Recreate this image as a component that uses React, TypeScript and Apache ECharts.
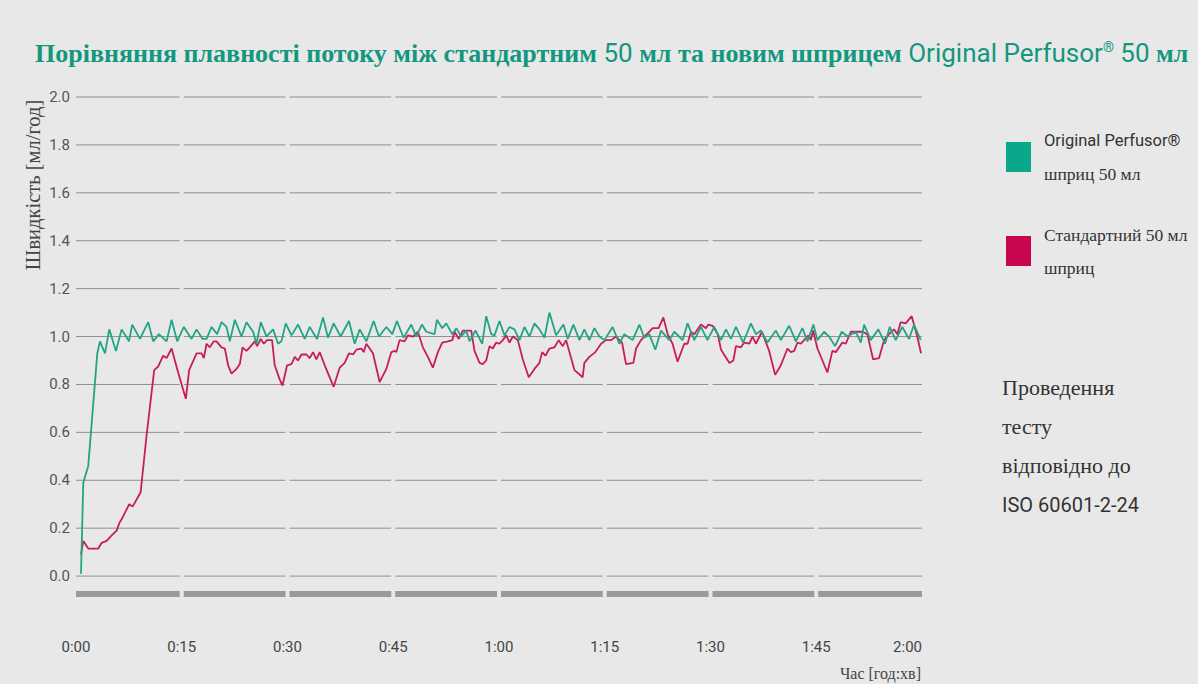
import React, { useEffect, useRef } from "react";
import * as echarts from "echarts";

// ---- data (time in minutes, flow in ml/h) ----
const greenT = [0.71, 1.03, 1.74, 3.02, 3.4, 4.11, 4.72, 5.67, 6.47, 7.51, 7.98, 9.07, 10.24, 10.95, 11.76, 12.85, 13.56, 14.35, 15.3, 16.39, 17.1, 17.95, 18.52, 19.23, 20.02, 20.64, 21.35, 21.82, 22.53, 23.48, 24.18, 25.12, 25.6, 26.21, 27.02, 27.95, 28.66, 29.14, 29.75, 30.56, 31.5, 32.44, 33.15, 34.19, 35.04, 35.74, 36.55, 37.54, 38.72, 39.53, 40.24, 41.19, 42.22, 42.97, 44.02, 44.87, 45.52, 46.47, 47.56, 48.27, 49.06, 49.69, 50.86, 51.19, 51.95, 52.52, 53.37, 53.94, 54.64, 55.35, 55.82, 56.67, 57.62, 58.19, 58.9, 59.36, 60.07, 60.78, 61.49, 62.2, 62.9, 63.61, 64.32, 65.03, 65.74, 66.45, 67.15, 68.1, 69.14, 69.75, 70.56, 71.41, 72.11, 72.82, 73.53, 74.24, 74.95, 76.12, 77.07, 77.78, 78.96, 79.91, 80.61, 81.32, 82.17, 82.98, 84.16, 84.87, 86.04, 86.75, 87.7, 88.65, 89.58, 90.53, 91.48, 92.19, 92.9, 93.61, 94.64, 95.73, 96.44, 97.15, 98.08, 99.27, 99.98, 101.16, 102.11, 103.04, 103.75, 104.6, 105.17, 106.12, 106.82, 107.67, 108.62, 109.42, 110.61, 111.32, 111.79, 112.73, 113.81, 114.76, 115.42, 116.27, 117.21, 118.16, 118.87, 119.81];
const greenV = [0.01, 0.39, 0.46, 0.93, 0.98, 0.93, 1.03, 0.94, 1.03, 0.98, 1.05, 0.99, 1.06, 0.98, 1.01, 0.98, 1.07, 0.98, 1.04, 0.99, 1.03, 0.99, 0.99, 1.04, 1.01, 1.06, 1.04, 0.98, 1.07, 1.0, 1.06, 1.02, 0.97, 1.06, 1.0, 1.03, 0.97, 0.98, 1.055, 1.005, 1.05, 0.99, 1.04, 0.99, 1.08, 0.995, 1.055, 1.0, 1.065, 0.97, 1.03, 0.98, 1.065, 1.0, 1.04, 1.01, 1.065, 0.995, 1.05, 1.0, 1.05, 1.02, 1.01, 1.07, 1.035, 1.055, 1.01, 1.035, 1.0, 1.025, 0.98, 1.025, 0.97, 1.085, 1.01, 1.005, 1.065, 1.005, 1.04, 1.03, 0.985, 1.04, 1.0, 1.055, 1.03, 0.995, 1.1, 1.005, 1.05, 0.99, 1.05, 0.985, 1.03, 0.985, 1.035, 1.0, 0.985, 1.04, 0.97, 1.01, 0.985, 1.05, 0.995, 1.01, 0.945, 1.025, 0.985, 1.02, 0.985, 1.055, 0.985, 1.04, 0.985, 1.04, 0.985, 1.03, 0.99, 1.04, 0.975, 1.055, 1.01, 1.025, 0.975, 1.025, 0.985, 1.045, 0.98, 1.035, 0.98, 1.05, 0.985, 1.02, 1.0, 0.96, 1.02, 1.0, 1.02, 0.975, 1.05, 0.985, 1.03, 0.97, 1.04, 0.985, 1.04, 0.99, 1.05, 0.985];

const redT = [0.71, 1.03, 1.74, 2.45, 3.16, 3.64, 4.35, 5.06, 5.77, 6.13, 6.7, 7.55, 8.03, 8.6, 9.17, 10.02, 11.09, 11.66, 12.37, 12.85, 13.56, 14.49, 15.58, 16.05, 17.1, 17.81, 18.13, 18.52, 18.98, 19.55, 19.93, 20.64, 21.11, 21.58, 22.06, 22.77, 23.24, 23.62, 24.18, 24.65, 25.36, 25.69, 26.21, 26.64, 27.1, 27.81, 28.19, 28.9, 29.28, 29.94, 30.56, 31.03, 31.49, 31.98, 32.68, 33.15, 33.62, 34.1, 34.57, 35.28, 36.55, 37.4, 38.11, 38.72, 39.29, 39.77, 40.48, 40.8, 41.19, 42.12, 43.07, 44.02, 44.73, 45.2, 45.44, 45.9, 46.61, 47.08, 47.79, 48.5, 49.2, 49.91, 50.62, 51.33, 51.95, 52.75, 53.37, 53.7, 54.3, 54.87, 56.06, 56.53, 57.24, 57.7, 58.19, 58.65, 59.12, 59.6, 60.07, 60.54, 61.02, 61.49, 61.96, 62.67, 63.37, 64.22, 65.03, 65.74, 66.12, 66.59, 67.15, 67.86, 68.47, 69.04, 69.52, 69.99, 70.7, 71.87, 72.11, 72.82, 73.67, 74.48, 75.19, 75.9, 76.6, 77.45, 78.02, 79.06, 79.44, 80.14, 80.61, 81.32, 81.79, 82.64, 83.31, 83.92, 84.62, 85.33, 86.28, 86.75, 87.23, 87.7, 88.65, 89.35, 89.7, 90.31, 91.02, 91.5, 92.68, 93.24, 93.61, 94.32, 94.79, 95.5, 95.97, 96.44, 97.29, 98.32, 99.17, 99.98, 100.92, 101.4, 101.87, 102.33, 102.81, 103.28, 103.89, 104.23, 104.55, 105.17, 106.58, 107.29, 107.77, 108.71, 109.19, 109.9, 111.54, 112.25, 113.06, 113.91, 114.62, 115.32, 116.03, 116.5, 116.98, 117.69, 118.54, 119.33, 119.86];
const redV = [0.09, 0.147, 0.115, 0.115, 0.115, 0.139, 0.147, 0.17, 0.19, 0.22, 0.25, 0.3, 0.29, 0.32, 0.35, 0.59, 0.86, 0.875, 0.92, 0.91, 0.95, 0.85, 0.74, 0.86, 0.93, 0.93, 0.91, 0.97, 0.955, 0.98, 0.98, 0.955, 0.95, 0.88, 0.845, 0.865, 0.885, 0.955, 0.94, 0.955, 0.98, 0.96, 0.99, 0.97, 0.985, 0.985, 0.88, 0.82, 0.795, 0.88, 0.885, 0.915, 0.9, 0.925, 0.925, 0.91, 0.935, 0.905, 0.935, 0.88, 0.79, 0.87, 0.89, 0.93, 0.925, 0.945, 0.95, 0.935, 0.97, 0.93, 0.81, 0.865, 0.935, 0.94, 0.935, 0.985, 0.98, 1.005, 1.0, 1.02, 0.955, 0.915, 0.87, 0.935, 0.975, 0.98, 0.985, 1.02, 0.99, 1.025, 1.025, 0.94, 0.89, 0.885, 0.9, 0.96, 0.95, 0.975, 0.97, 0.985, 1.005, 0.975, 1.0, 0.985, 0.905, 0.83, 0.865, 0.89, 0.935, 0.92, 0.95, 0.955, 0.985, 0.96, 0.985, 0.935, 0.86, 0.83, 0.89, 0.915, 0.935, 0.97, 0.985, 0.985, 1.0, 0.975, 0.885, 0.89, 0.95, 0.985, 1.0, 1.02, 1.035, 1.035, 1.08, 1.01, 0.97, 0.895, 0.97, 0.97, 1.02, 1.01, 1.05, 1.035, 1.05, 1.045, 1.01, 0.945, 0.89, 0.9, 0.96, 0.955, 0.975, 0.97, 1.0, 0.97, 1.02, 0.94, 0.84, 0.88, 0.95, 0.935, 0.94, 0.975, 0.97, 0.985, 1.005, 0.985, 1.025, 0.95, 0.85, 0.94, 0.935, 0.975, 0.97, 1.02, 1.02, 1.01, 0.905, 0.91, 0.985, 1.01, 1.03, 1.01, 1.06, 1.055, 1.085, 1.0, 0.93];

const xTicks = [0, 15, 30, 45, 60, 75, 90, 105, 120];
const yTicks = [0, 0.2, 0.4, 0.6, 0.8, 1.0, 1.2, 1.4, 1.6, 1.8, 2.0];
const barLevel = -0.075; // grey time bar under the plot

const seriesNames = ["Original Perfusor® шприц 50 мл", "Стандартний 50 мл шприц"];

const BG = "#e8e8e8";
const GREEN = "#22a486";
const RED = "#c81d5a";
const TEAL = "#13977e";
const SERIF = "'Liberation Serif', 'DejaVu Serif', serif";
const NARROW = "Roboto, 'Noto Sans', sans-serif";

function segments(level: number, gap: number) {
  const out: number[][] = [];
  for (let i = 0; i < xTicks.length - 1; i++) {
    const a = i === 0 ? xTicks[i] : xTicks[i] + gap;
    const b = i === xTicks.length - 2 ? xTicks[i + 1] : xTicks[i + 1] - gap;
    out.push([a, b, level]);
  }
  return out;
}

function fmtTime(v: number) {
  const h = Math.floor(v / 60);
  const m = Math.round(v - h * 60);
  return h + ":" + (m < 10 ? "0" + m : "" + m);
}

export default function App() {
  const ref = useRef<HTMLDivElement>(null);
  useEffect(() => {
    if (!ref.current) return;
    const chart = echarts.init(ref.current, null, { renderer: "svg" });
    const gridData: number[][] = [];
    yTicks.forEach((y) => segments(y, 0.3).forEach((s) => gridData.push(s)));
    const barData = segments(barLevel, 0.28);
    const segRender = (color: string, width: number) => (params: any, api: any) => {
      const p1 = api.coord([api.value(0), api.value(2)]);
      const p2 = api.coord([api.value(1), api.value(2)]);
      return {
        type: "line",
        shape: { x1: p1[0], y1: p1[1], x2: p2[0], y2: p2[1] },
        style: { stroke: color, lineWidth: width },
      };
    };
    chart.setOption({
      animation: false,
      backgroundColor: BG,
      title: {
        left: 30,
        top: 35,
        text:
          "{s|Порівняння плавності потоку між стандартним }{n|50}{s| мл та новим шприцем }{n|Original Perfusor}{r|®}{n| 50}{s| мл}",
        textStyle: {
          rich: {
            s: { fontFamily: SERIF, fontWeight: "bold", fontSize: 26, color: TEAL },
            n: { fontFamily: NARROW, fontWeight: "normal", fontSize: 26, color: TEAL },
            r: { fontFamily: NARROW, fontWeight: "normal", fontSize: 14, color: TEAL, verticalAlign: "top" },
          },
        },
      },
      legend: {
        orient: "vertical",
        left: 1001,
        top: 127,
        itemWidth: 25,
        itemHeight: 30,
        itemGap: 43,
        icon: "rect",
        data: [
          { name: seriesNames[0], itemStyle: { color: "#0aa88a" } },
          { name: seriesNames[1], itemStyle: { color: "#c8054f" } },
        ],
        formatter: (name: string) =>
          name === seriesNames[0]
            ? "{a|Original Perfusor®}\n{b|шприц 50 мл}"
            : "{b|Стандартний 50 мл}\n{b|шприц}",
        textStyle: {
          padding: [0, 0, 0, 8],
          rich: {
            a: { fontFamily: NARROW, fontSize: 16.5, color: "#333", lineHeight: 33 },
            b: { fontFamily: SERIF, fontSize: 17.5, color: "#333", lineHeight: 33 },
          },
        },
      },
      grid: { left: 76, right: 276, top: 97, bottom: 60 },
      xAxis: {
        type: "value",
        min: 0,
        max: 120,
        interval: 15,
        axisLine: { show: false },
        axisTick: { show: false },
        splitLine: { show: false },
        axisLabel: {
          formatter: fmtTime,
          fontFamily: NARROW,
          fontSize: 15,
          color: "#444",
          margin: 15,
          alignMaxLabel: "right",
        },
      },
      yAxis: {
        type: "value",
        min: -0.2,
        max: 2.0,
        interval: 0.2,
        axisLine: { show: false },
        axisTick: { show: false },
        splitLine: { show: false },
        axisLabel: {
          formatter: (v: number) => (v < -0.01 ? "" : v.toFixed(1)),
          fontFamily: NARROW,
          fontSize: 15,
          color: "#555",
          margin: 6,
        },
      },
      graphic: [
        {
          type: "text",
          x: 33,
          y: 185,
          rotation: Math.PI / 2,
          style: {
            text: "Швидкість [мл/год]",
            fontFamily: SERIF,
            fontSize: 20.5,
            fill: "#444",
            align: "center",
            verticalAlign: "middle",
          },
        },
        {
          type: "text",
          x: 921,
          y: 673,
          style: {
            text: "Час [год:хв]",
            fontFamily: SERIF,
            fontSize: 16,
            fill: "#444",
            align: "right",
            verticalAlign: "middle",
          },
        },
        {
          type: "text",
          x: 1002,
          y: 446,
          style: {
            text: "{s|Проведення}\n{s|тесту}\n{s|відповідно до}\n{n|ISO 60601-2-24}",
            verticalAlign: "middle",
            rich: {
              s: { fontFamily: SERIF, fontSize: 22, fill: "#333", lineHeight: 39 },
              n: { fontFamily: NARROW, fontSize: 20, fill: "#333", lineHeight: 39 },
            },
          },
        },
      ],
      series: [
        {
          type: "custom",
          name: "grid",
          silent: true,
          z: 1,
          renderItem: segRender("#8f8f8f", 1),
          data: gridData,
        },
        {
          type: "custom",
          name: "bar",
          silent: true,
          z: 1,
          renderItem: segRender("#9a9a9a", 6),
          data: barData,
        },
        {
          type: "line",
          name: seriesNames[1],
          z: 3,
          symbol: "none",
          lineStyle: { color: RED, width: 1.8 },
          itemStyle: { color: RED },
          data: redT.map((t, i) => [t, redV[i]]),
        },
        {
          type: "line",
          name: seriesNames[0],
          z: 4,
          symbol: "none",
          lineStyle: { color: GREEN, width: 1.8 },
          itemStyle: { color: GREEN },
          data: greenT.map((t, i) => [t, greenV[i]]),
        },
      ],
    });
    return () => chart.dispose();
  }, []);
  return (
    <div
      ref={ref}
      style={{ position: "absolute", left: 0, top: 0, width: 1198, height: 684, background: BG }}
    />
  );
}
